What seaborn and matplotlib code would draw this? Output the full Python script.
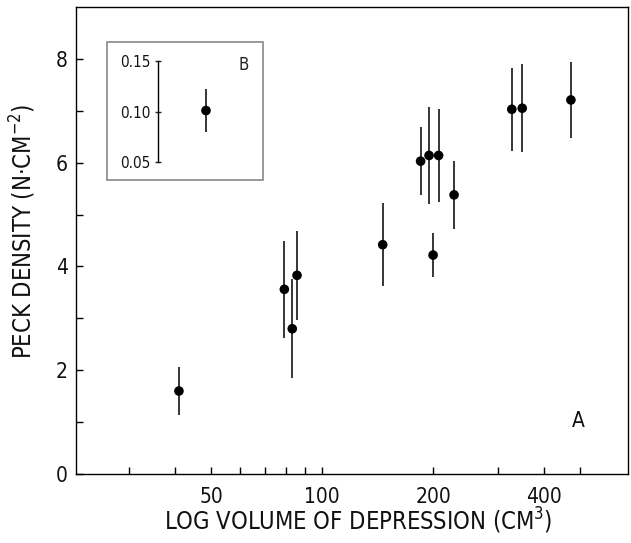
import matplotlib
matplotlib.use("Agg")
import matplotlib.pyplot as plt
from matplotlib.patches import Rectangle
from matplotlib.ticker import FixedLocator, NullFormatter, FixedFormatter
import seaborn as sns
import pandas as pd

# ---- data ----
volume = [40.9, 79, 83, 85.5, 146, 185, 195, 207, 200, 228, 327, 349, 473]
density = [1.60, 3.56, 2.80, 3.83, 4.42, 6.03, 6.14, 6.14, 4.22, 5.38, 7.03, 7.05, 7.21]
density_err = [0.46, 0.93, 0.95, 0.86, 0.80, 0.65, 0.93, 0.90, 0.42, 0.66, 0.80, 0.85, 0.74]

inset_pos = [0]
inset_value = [0.101]
inset_err = [0.021]

x_major = [50, 100, 200, 400]
x_minor = [30, 40, 60, 70, 80, 90, 300, 500]
y_major = [0, 2, 4, 6, 8]
y_minor = [1, 3, 5, 7]
inset_ticks = [0.05, 0.10, 0.15]

sns.set_theme(style="white")
plt.rcParams['font.family'] = ['DejaVu Sans']
plt.rcParams['font.stretch'] = 'condensed'
plt.rcParams['mathtext.fontset'] = 'dejavusans'

df = pd.DataFrame({"volume": volume, "density": density, "err": density_err})

fig = plt.figure(figsize=(6.31, 5.43), dpi=100)
ax = fig.add_axes([0.1204, 0.127, 0.875, 0.860])

ax.errorbar(df["volume"], df["density"], yerr=df["err"], fmt="none",
            ecolor="black", elinewidth=1.1, capsize=0)
sns.scatterplot(data=df, x="volume", y="density", ax=ax, color="black",
                s=48, edgecolor="none", zorder=3)

ax.set_xscale("log")
ax.set_xlim(21.5, 676)
ax.set_ylim(0, 9)
ax.xaxis.set_major_locator(FixedLocator(x_major))
ax.xaxis.set_major_formatter(FixedFormatter([str(v) for v in x_major]))
ax.xaxis.set_minor_locator(FixedLocator(x_minor))
ax.xaxis.set_minor_formatter(NullFormatter())
ax.yaxis.set_major_locator(FixedLocator(y_major))
ax.yaxis.set_minor_locator(FixedLocator(y_minor))

ax.tick_params(which="both", direction="in", length=5, width=1, color="black",
               labelsize=15, labelcolor="#111111")
ax.tick_params(axis="x", which="both", pad=9, bottom=True, top=False)
ax.tick_params(axis="y", which="both", pad=6, left=True, right=False)
for sp in ax.spines.values():
    sp.set_color("black")
    sp.set_linewidth(1.0)

ax.set_xlabel(r"LOG VOLUME OF DEPRESSION (CM$^{3}$)", fontsize=17, color="#111111")
ax.set_ylabel(r"PECK DENSITY (N$\cdot$CM$^{-2}$)", fontsize=17, color="#111111")
ax.xaxis.set_label_coords(0.511, -0.068)
ax.yaxis.set_label_coords(-0.068, 0.52)

ax.text(0.909, 0.113, "A", transform=ax.transAxes, fontsize=15,
        ha="center", va="center", color="#111111")

# ---- inset B ----
ins = fig.add_axes([0.1696, 0.6685, 0.247, 0.254])
ins.set_facecolor("white")
ins.errorbar(inset_pos, inset_value, yerr=inset_err, fmt="none",
             ecolor="black", elinewidth=1.1, capsize=0)
sns.scatterplot(x=inset_pos, y=inset_value, ax=ins, color="black",
                s=48, edgecolor="none", zorder=3)
ins.set_xlim(-0.635, 0.365)
ins.set_ylim(0.0326, 0.1684)
for name in ["top", "right", "bottom"]:
    ins.spines[name].set_visible(False)
ins.spines["left"].set_position(("axes", 0.329))
ins.spines["left"].set_bounds(0.05, 0.15)
ins.spines["left"].set_color("black")
ins.spines["left"].set_linewidth(1.0)
ins.set_xticks([])
ins.set_yticks(inset_ticks)
ins.set_yticklabels(["0.05", "0.10", "0.15"])
ins.tick_params(axis="y", direction="inout", length=5, width=1, labelsize=11,
                pad=3, labelcolor="#111111", left=True)
ins.add_patch(Rectangle((0, 0), 1, 1, transform=ins.transAxes, fill=False,
                        edgecolor="#888888", linewidth=1.2, clip_on=False))
ins.text(0.878, 0.833, "B", transform=ins.transAxes, fontsize=12,
         ha="center", va="center", color="#222222")
ins.set_xlabel("")
ins.set_ylabel("")

fig.savefig("out.png", dpi=100)
